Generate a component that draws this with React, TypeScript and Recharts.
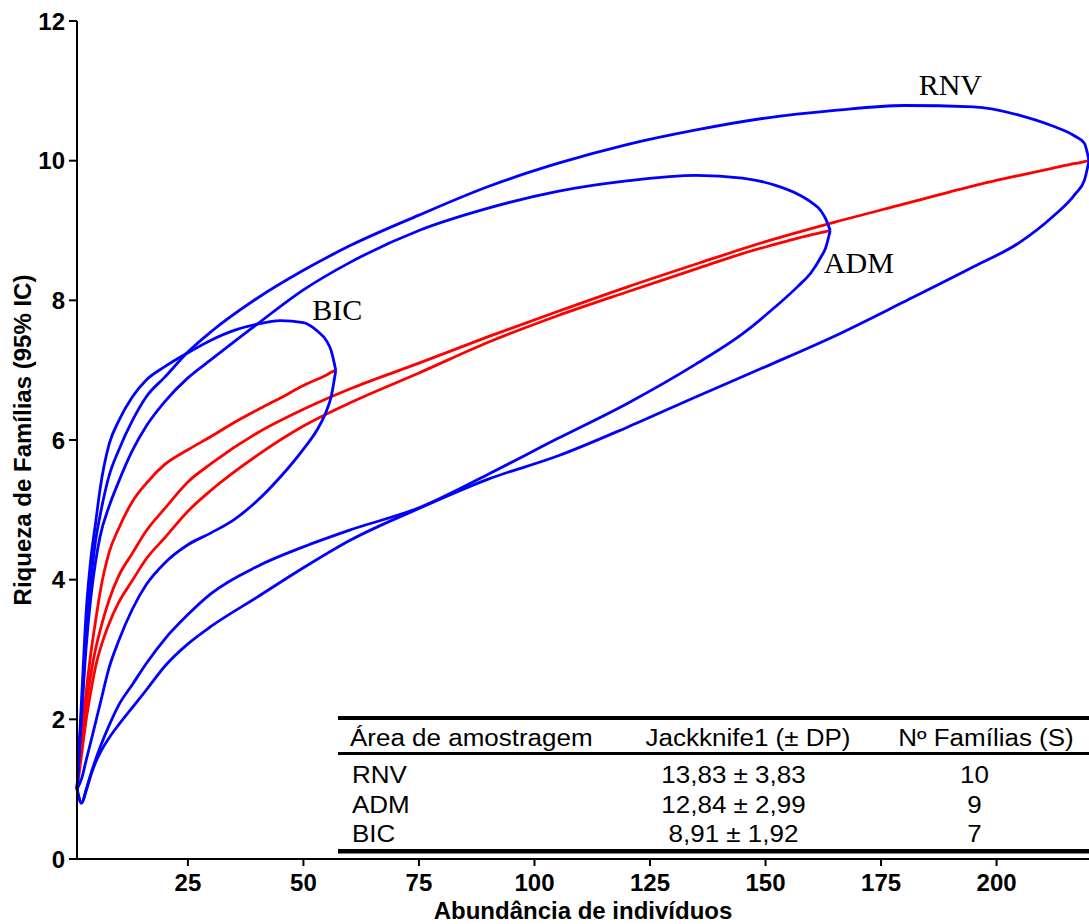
import { LineChart, Line, XAxis, YAxis, ReferenceDot } from "recharts";

const sans = "'Liberation Sans', Arial, sans-serif";
const serif = "'Liberation Serif', 'Times New Roman', serif";

// number of individuals (rarefaction steps) per area
const bicN = [1, 2, 3, 4, 5, 6, 8, 10, 13, 16, 20, 25, 30, 35, 40, 45, 50, 53, 55, 56, 57];
const bicMean = [1, 1.75, 2.4, 2.95, 3.4, 3.82, 4.4, 4.73, 5.12, 5.38, 5.65, 5.86, 6.05, 6.25, 6.43, 6.6, 6.78, 6.87, 6.93, 6.97, 7.0];
const bicUpper = [1, 2.3, 3.55, 4.3, 4.8, 5.3, 5.95, 6.27, 6.62, 6.86, 7.05, 7.25, 7.43, 7.57, 7.66, 7.71, 7.68, 7.56, 7.42, 7.28, 7.0];
const bicLower = [1, 1.15, 1.42, 1.68, 1.95, 2.22, 2.75, 3.12, 3.58, 3.93, 4.24, 4.5, 4.67, 4.86, 5.13, 5.47, 5.87, 6.15, 6.42, 6.62, 7.0];

const admN = [1, 2, 3, 4, 5, 6, 8, 10, 13, 16, 20, 25, 30, 40, 50, 60, 75, 90, 105, 120, 135, 145, 152, 157, 160, 162, 163, 164];
const admMean = [1, 1.5, 2.0, 2.4, 2.75, 3.0, 3.38, 3.67, 3.99, 4.3, 4.6, 4.98, 5.28, 5.78, 6.2, 6.53, 6.96, 7.4, 7.78, 8.12, 8.45, 8.67, 8.8, 8.89, 8.94, 8.97, 8.985, 9.0];
const admUpper = [1, 2.05, 3.05, 3.75, 4.25, 4.62, 5.06, 5.4, 5.85, 6.2, 6.55, 6.89, 7.15, 7.66, 8.15, 8.54, 9.0, 9.32, 9.56, 9.71, 9.79, 9.75, 9.65, 9.52, 9.4, 9.28, 9.17, 9.0];
const admLower = [1, 0.8, 1.0, 1.22, 1.42, 1.6, 1.92, 2.2, 2.5, 2.8, 3.15, 3.5, 3.8, 4.19, 4.47, 4.71, 5.03, 5.51, 6.02, 6.52, 7.09, 7.52, 7.9, 8.2, 8.41, 8.62, 8.75, 9.0];

const rnvN = [1, 2, 3, 4, 5, 6, 8, 10, 13, 16, 20, 25, 30, 40, 50, 60, 75, 90, 105, 120, 135, 150, 165, 180, 195, 205, 212, 217, 219, 220];
const rnvMean = [1, 1.62, 2.2, 2.65, 3.0, 3.27, 3.72, 4.05, 4.38, 4.7, 5.02, 5.4, 5.66, 6.1, 6.44, 6.73, 7.1, 7.48, 7.84, 8.19, 8.52, 8.84, 9.12, 9.38, 9.64, 9.79, 9.89, 9.96, 9.985, 10.0];
const rnvUpper = [1, 2.15, 3.3, 4.0, 4.55, 4.92, 5.5, 5.85, 6.28, 6.62, 6.9, 7.26, 7.55, 8.03, 8.43, 8.78, 9.22, 9.63, 9.96, 10.23, 10.44, 10.61, 10.72, 10.79, 10.77, 10.65, 10.5, 10.35, 10.25, 10.0];
const rnvLower = [1, 0.8, 0.98, 1.2, 1.38, 1.52, 1.74, 1.92, 2.17, 2.42, 2.76, 3.08, 3.33, 3.75, 4.17, 4.56, 5.02, 5.44, 5.77, 6.18, 6.62, 7.05, 7.49, 7.98, 8.48, 8.83, 9.19, 9.52, 9.72, 10.0];

const xTicks = [25, 50, 75, 100, 125, 150, 175, 200];
const yTicks = [0, 2, 4, 6, 8, 10, 12];

// area name labels, placed in data coordinates
const areaLabels = [
  { name: "RNV", x: 190, y: 11.09 },
  { name: "ADM", x: 170.2, y: 8.55 },
  { name: "BIC", x: 57.3, y: 7.87 },
];

// summary table
const tableHead = ["Área de amostragem", "Jackknife1 (± DP)", "Nº Famílias (S)"];
const tableAreas = ["RNV", "ADM", "BIC"];
const tableJack = ["13,83 ± 3,83", "12,84 ± 2,99", "8,91 ± 1,92"];
const tableS = ["10", "9", "7"];

const toRows = (n: number[], mean: number[], upper: number[], lower: number[]) =>
  n.map((x, i) => ({ x, mean: mean[i], upper: upper[i], lower: lower[i] }));

const areas = [
  { id: "bic", rows: toRows(bicN, bicMean, bicUpper, bicLower) },
  { id: "adm", rows: toRows(admN, admMean, admUpper, admLower) },
  { id: "rnv", rows: toRows(rnvN, rnvMean, rnvUpper, rnvLower) },
];

const tick = { fill: "#000", fontSize: 24, fontWeight: 700, fontFamily: sans };
const axisStroke = { stroke: "#000", strokeWidth: 2 };

function Table() {
  const sx = 1.13; // text in the source table is a bit wide
  const rowY = [783, 812.5, 842];
  const t = (x: number, y: number) => `translate(${x} ${y}) scale(${sx} 1)`;
  return (
    <svg
      width={1089}
      height={924}
      style={{ position: "absolute", left: 0, top: 0, pointerEvents: "none" }}
      fontFamily={sans}
      fontSize={23}
      fill="#000"
    >
      <rect x={338} y={716} width={751} height={4} />
      <rect x={338} y={752} width={751} height={3} />
      <rect x={338} y={849} width={751} height={4.5} />
      <text transform={t(350, 746)} textAnchor="start">{tableHead[0]}</text>
      <text transform={t(748, 746)} textAnchor="middle">{tableHead[1]}</text>
      <text transform={t(986, 746)} textAnchor="middle">{tableHead[2]}</text>
      {tableAreas.map((a, i) => (
        <g key={a}>
          <text transform={t(352, rowY[i])} textAnchor="start">{a}</text>
          <text transform={t(733.5, rowY[i])} textAnchor="middle">{tableJack[i]}</text>
          <text transform={t(974.5, rowY[i])} textAnchor="middle">{tableS[i]}</text>
        </g>
      ))}
    </svg>
  );
}

export default function App() {
  return (
    <div style={{ position: "absolute", left: 0, top: 0, width: 1089, height: 924, background: "#fff" }}>
      <LineChart
        width={1089}
        height={924}
        margin={{ top: 21, right: 0, bottom: 0, left: 0 }}
        style={{ fontFamily: sans }}
      >
        <XAxis
          type="number"
          dataKey="x"
          domain={[1, 220]}
          ticks={xTicks}
          height={65}
          tickSize={7}
          tickMargin={8}
          axisLine={axisStroke}
          tickLine={axisStroke}
          tick={tick}
          label={{
            value: "Abundância de indivíduos",
            position: "insideBottom",
            offset: 5,
            fill: "#000",
            fontSize: 24,
            fontWeight: 700,
            fontFamily: sans,
          }}
        />
        <YAxis
          type="number"
          domain={[0, 12]}
          ticks={yTicks}
          width={77}
          tickSize={8}
          tickMargin={4}
          axisLine={axisStroke}
          tickLine={axisStroke}
          tick={tick}
          label={{
            value: "Riqueza de Famílias (95% IC)",
            angle: -90,
            position: "insideLeft",
            offset: 22,
            fill: "#000",
            fontSize: 24,
            fontWeight: 700,
            fontFamily: sans,
            style: { textAnchor: "middle" },
          }}
        />
        {areas.map((a) => (
          <Line
            key={a.id + "-mean"}
            data={a.rows}
            dataKey="mean"
            type="monotone"
            stroke="#ff0000"
            strokeWidth={2.8}
            dot={false}
            activeDot={false}
            isAnimationActive={false}
          />
        ))}
        {areas.map((a) => (
          <Line
            key={a.id + "-upper"}
            data={a.rows}
            dataKey="upper"
            type="monotone"
            stroke="#0000ff"
            strokeWidth={2.8}
            dot={false}
            activeDot={false}
            isAnimationActive={false}
          />
        ))}
        {areas.map((a) => (
          <Line
            key={a.id + "-lower"}
            data={a.rows}
            dataKey="lower"
            type="monotone"
            stroke="#0000ff"
            strokeWidth={2.8}
            dot={false}
            activeDot={false}
            isAnimationActive={false}
          />
        ))}
        {areaLabels.map((l) => (
          <ReferenceDot
            key={l.name}
            x={l.x}
            y={l.y}
            r={0}
            fill="none"
            stroke="none"
            label={{ value: l.name, position: "center", fill: "#000", fontSize: 30, fontFamily: serif }}
          />
        ))}
      </LineChart>
      <Table />
    </div>
  );
}
